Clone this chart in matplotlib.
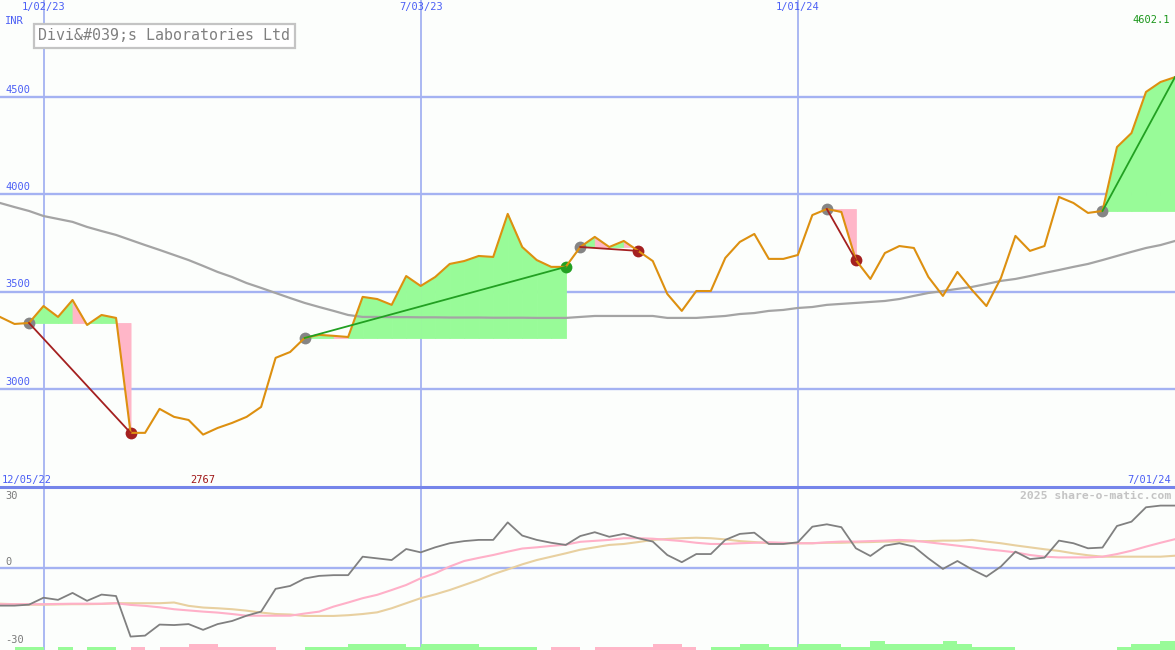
import numpy as np
import pandas as pd
import matplotlib
matplotlib.use('Agg')
import matplotlib.pyplot as plt
import matplotlib.transforms as mtransforms
from matplotlib.lines import Line2D

plt.rcParams['font.family'] = ['DejaVu Sans Mono']

# weekly closes, INR
dates = pd.date_range('2022-12-12', periods=82, freq='7D')
price = [3371, 3335, 3340, 3427, 3371, 3458, 3330, 3381, 3366, 2776,
         2776, 2899, 2858, 2842, 2767, 2801, 2827, 2858, 2909, 3161,
         3191, 3263, 3279, 3274, 3268, 3474, 3463, 3433, 3581, 3530,
         3576, 3643, 3658, 3684, 3679, 3900, 3730, 3663, 3628, 3628,
         3730, 3782, 3730, 3761, 3710, 3658, 3489, 3402, 3504, 3504,
         3674, 3756, 3797, 3669, 3669, 3689, 3894, 3925, 3910, 3663,
         3566, 3699, 3735, 3725, 3576, 3479, 3602, 3510, 3427, 3571,
         3787, 3710, 3735, 3987, 3956, 3905, 3915, 4243, 4315, 4526,
         4577, 4602.1]
ma_long = [3956, 3935, 3915, 3889, 3874, 3859, 3833, 3812, 3792, 3766,
           3740, 3715, 3689, 3663, 3633, 3602, 3576, 3545, 3520, 3494,
           3468, 3443, 3422, 3402, 3381, 3371, 3371, 3370, 3370, 3369,
           3369, 3368, 3368, 3368, 3367, 3367, 3367, 3366, 3366, 3366,
           3371, 3376, 3376, 3376, 3376, 3376, 3366, 3366, 3366, 3371,
           3376, 3386, 3391, 3402, 3407, 3417, 3422, 3433, 3438, 3443,
           3448, 3453, 3463, 3479, 3494, 3504, 3515, 3525, 3540, 3556,
           3566, 3581, 3597, 3612, 3628, 3643, 3663, 3684, 3705, 3725,
           3740, 3761]

# lower panel oscillators
osc = [-15.7, -15.7, -15.3, -12.4, -13.3, -10.4, -13.7, -11.1, -11.7, -28.6,
       -28.2, -23.6, -23.8, -23.4, -25.8, -23.4, -22.1, -19.9, -18.2, -8.7,
       -7.5, -4.4, -3.3, -3.0, -3.0, 4.7, 4.0, 3.3, 7.9, 6.5,
       8.6, 10.3, 11.2, 11.7, 11.7, 19.0, 13.5, 11.7, 10.5, 9.6,
       13.3, 14.9, 13.0, 14.2, 12.4, 11.0, 5.4, 2.4, 5.8, 5.8,
       11.7, 14.2, 14.7, 10.0, 10.0, 10.7, 17.2, 18.2, 17.0, 8.2,
       5.0, 9.3, 10.3, 8.9, 4.0, -0.4, 2.9, -0.6, -3.6, 0.6,
       6.8, 3.7, 4.3, 11.4, 10.3, 8.2, 8.5, 17.5, 19.3, 25.3,
       26.0, 26.0]
osc_fast = [-15.1, -15.1, -15.1, -15.1, -15.0, -14.9, -14.9, -14.9, -14.7, -15.4,
            -15.8, -16.4, -17.2, -17.7, -18.2, -18.6, -19.2, -19.9, -19.9, -19.9,
            -19.9, -19.0, -18.2, -16.1, -14.4, -12.6, -11.2, -9.2, -7.1, -4.3,
            -2.2, 0.6, 2.9, 4.2, 5.4, 6.8, 8.1, 8.6, 9.2, 9.7,
            10.9, 11.3, 11.7, 12.4, 12.4, 12.2, 11.7, 11.2, 10.5, 10.0,
            10.0, 10.3, 10.5, 10.7, 10.5, 10.3, 10.3, 10.7, 11.0, 11.0,
            11.2, 11.4, 11.7, 11.4, 10.7, 10.0, 9.3, 8.6, 7.8, 7.2,
            6.5, 5.4, 4.7, 4.4, 4.4, 4.4, 4.7, 5.8, 7.2, 8.9,
            10.5, 12.0]
osc_slow = [-14.9, -15.1, -15.3, -15.3, -15.2, -15.1, -15.1, -15.0, -14.7, -14.7,
            -14.7, -14.7, -14.4, -15.8, -16.5, -16.8, -17.2, -17.8, -18.6, -19.2,
            -19.4, -20.0, -20.0, -20.0, -19.7, -19.2, -18.5, -16.8, -14.7, -12.6,
            -11.0, -9.2, -7.1, -5.0, -2.6, -0.6, 1.5, 3.3, 4.7, 6.1,
            7.6, 8.6, 9.6, 10.0, 10.8, 11.7, 12.1, 12.4, 12.6, 12.4,
            11.9, 11.2, 10.8, 10.3, 10.3, 10.3, 10.3, 10.5, 10.5, 10.7,
            10.8, 11.0, 11.0, 11.1, 11.2, 11.4, 11.4, 11.7, 11.0, 10.3,
            9.4, 8.6, 7.8, 7.1, 6.1, 5.3, 4.7, 4.7, 4.7, 4.7,
            4.7, 5.1]
# weekly strength bars (+ green, - pink)
bar_level = [0, 1, 1, 0, 1, 0, 1, 1, 0, -1,
             0, -1, -1, -2, -2, -1, -1, -1, -1, 0,
             0, 1, 1, 1, 2, 2, 2, 2, 1, 2,
             2, 2, 2, 1, 1, 1, 1, 0, -1, -1,
             0, -1, -1, -1, -1, -2, -2, -1, 0, 1,
             1, 2, 2, 1, 1, 2, 2, 2, 1, 1,
             3, 2, 2, 2, 2, 3, 2, 1, 1, 1,
             0, 0, 0, 0, 0, 0, 0, 1, 2, 2,
             3]

# trades (week index of entry / exit)
trade_entry = [2, 21, 40, 57, 76]
trade_exit = [9, 39, 44, 59, 81]
trade_open = [False, False, False, False, True]
pink_weeks = [5, 8, 23, 41, 43, 57, 58]

price_ticks = [3000, 3500, 4000, 4500]
date_ticks = ['2023-01-02', '2023-07-03', '2024-01-01']
date_tick_labels = ['1/02/23', '7/03/23', '1/01/24']
osc_ticks = [-30, 0, 30]
start_label = '12/05/22'
end_label = '7/01/24'
title = 'Divi&#039;s Laboratories Ltd'

BG = '#fcfefc'
GRID = '#a4b2f2'
BLUE_TXT = '#4b5ff5'
ORANGE = '#dd9010'
MA_GRAY = '#a4a4a4'
GREEN_FILL = '#98fb98'
PINK_FILL = '#ffb6c8'
RED = '#a42020'
GREEN = '#22a022'

W, H = 1175, 650
fig = plt.figure(figsize=(W / 100, H / 100), dpi=100, facecolor=BG)
lower_h = 163 / H
ax = fig.add_axes([0, lower_h, 1, 1 - lower_h])
ax2 = fig.add_axes([0, 0, 1, lower_h], sharex=ax)
for a in (ax, ax2):
    a.axis('off')
ax.set_xlim(dates[0], dates[-1])
ax.set_ylim(2498, 4998)
ax2.set_ylim(-34.2, 33.75)

# grid
for v in price_ticks:
    ax.axhline(v, color=GRID, lw=1.7, zorder=1)
for d in date_ticks:
    ax.axvline(pd.Timestamp(d), color=GRID, lw=1.3, zorder=1)
    ax2.axvline(pd.Timestamp(d), color=GRID, lw=1.3, zorder=1)
ax2.axhline(0, color=GRID, lw=1.7, zorder=1)
fig.add_artist(Line2D([0, 1], [lower_h, lower_h], transform=fig.transFigure,
                      color='#7585ea', lw=2.2))

# trade shading
for e, x_ in zip(trade_entry, trade_exit):
    level = price[e]
    for j in range(e, x_):
        c = PINK_FILL if j in pink_weeks else GREEN_FILL
        ax.fill_between(dates[j:j + 2], price[j:j + 2], level, color=c,
                        lw=0.6, edgecolor=c, zorder=2)

ax.plot(dates, ma_long, color=MA_GRAY, lw=1.6, zorder=3)

for e, x_, op in zip(trade_entry, trade_exit, trade_open):
    win = price[x_] > price[e]
    col = GREEN if win else RED
    ax.plot(dates[e], price[e], 'o', ms=8.5, color='#858585', mec='none', zorder=4)
    if not op:
        ax.plot(dates[x_], price[x_], 'o', ms=8.5, color=col, mec='none', zorder=4)
    ax.plot([dates[e], dates[x_]], [price[e], price[x_]], color=col, lw=1.3, zorder=6)

ax.plot(dates, price, color=ORANGE, lw=1.5, zorder=5)

# labels main panel
trans_y = mtransforms.blended_transform_factory(ax.transAxes, ax.transData)
trans_x = mtransforms.blended_transform_factory(ax.transData, ax.transAxes)
for v in price_ticks:
    ax.text(5 / W, v + 12, str(v), transform=trans_y, color=BLUE_TXT,
            fontsize=7.5, va='bottom', ha='left')
for d, lab in zip(date_ticks, date_tick_labels):
    ax.text(pd.Timestamp(d), 1 - 2 / 487, lab, transform=trans_x, color=BLUE_TXT,
            fontsize=7.5, va='top', ha='center')
fig.text(5 / W, 1 - 21 / H, 'INR', color=BLUE_TXT, fontsize=7.5, va='center', ha='left')
imin = int(np.argmin(price))
ax.text(dates[imin], 2 / 487, f'{price[imin]:g}', transform=trans_x, color='#a01818',
        fontsize=7.5, va='bottom', ha='center')
ax.text(2 / W, 2 / 487, start_label, transform=ax.transAxes, color=BLUE_TXT,
        fontsize=7.5, va='bottom', ha='left')
ax.text(1 - 4 / W, 2 / 487, end_label, transform=ax.transAxes, color=BLUE_TXT,
        fontsize=7.5, va='bottom', ha='right')
fig.text(1 - 5 / W, 1 - 20 / H, f'{max(price):g}', color='#1a961a', fontsize=7.5,
         va='center', ha='right')
fig.text(38 / W, 1 - 36 / H, title, color='#808080', fontsize=10.8, va='center', ha='left',
         bbox=dict(boxstyle='square,pad=0.3', fc='white', ec='#c4c4c4', lw=1.6))

# lower panel
ax2.plot(dates, osc_slow, color='#e8d0a0', lw=1.5, zorder=3)
ax2.plot(dates, osc_fast, color='#ffb0c8', lw=1.5, zorder=3)
ax2.plot(dates, osc, color='#808080', lw=1.3, zorder=4)
trans2 = mtransforms.blended_transform_factory(ax2.transAxes, ax2.transData)
for v in osc_ticks:
    ax2.text(5 / W, v + (2.5 if v == 0 else 0), str(v), transform=trans2, color='#7a7a7a',
             fontsize=7.5, va='center', ha='left')
fig.text(1 - 4 / W, 1 - 496 / H, '2025 share-o-matic.com', color='#c4c4c4',
         fontsize=8.2, fontweight='bold', va='center', ha='right')

ax3 = ax2.twinx()
ax3.axis('off')
ax3.set_ylim(0, 163 / 3)
bar_colors = [GREEN_FILL if b > 0 else PINK_FILL for b in bar_level]
ax3.bar(dates[:-1], np.abs(bar_level), width=7, align='edge', color=bar_colors, lw=0)
ax3.set_xlim(dates[0], dates[-1])

fig.savefig('out.png', dpi=100, facecolor=BG)
